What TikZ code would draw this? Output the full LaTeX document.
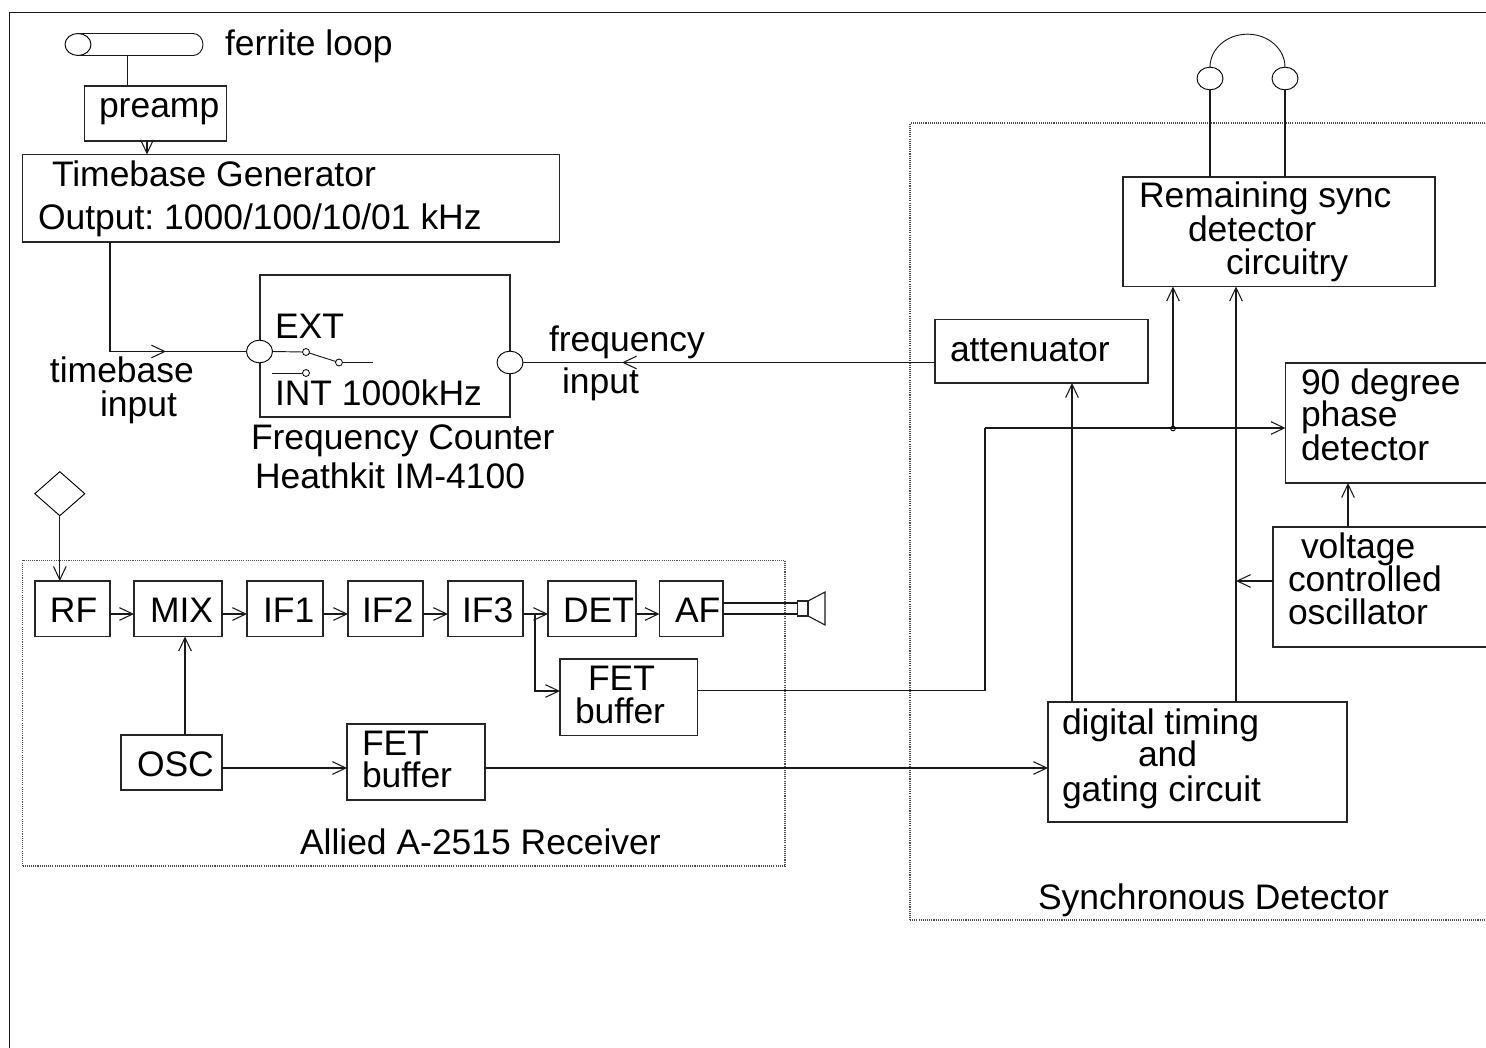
\documentclass[tikz,border=0pt]{standalone}
\usepackage{fontspec}
\setmainfont{Liberation Sans}
\usetikzlibrary{arrows.meta,shapes.geometric}
\tikzset{
  boxn/.style={draw=black!85,line width=0.8pt,rectangle,inner sep=0pt,outer sep=0pt},
  dotbox/.style={draw=black!70,line width=0.8pt,dash pattern=on 0.8pt off 0.8pt,rectangle,inner sep=0pt,outer sep=0pt},
  lbl/.style={anchor=base west,inner sep=0pt,outer sep=0pt,font=\frenchspacing\fontsize{26.6}{30}\selectfont},
  wire/.style={draw=black!90,line width=0.8pt},
  arr/.style={wire,-{Straight Barb[length=10pt,width=9.5pt]}},
  portc/.style={draw=black,line width=0.7pt,ellipse,inner sep=0pt,outer sep=0pt,minimum width=19.5pt,minimum height=17pt},
  tinyc/.style={draw=black,line width=0.6pt,circle,inner sep=0pt,outer sep=0pt,minimum size=5.2pt}
}
\newcommand{\bx}[6][boxn]{\node[#1,minimum width={(#5-#3)*0.75pt},minimum height={(#6-#4)*0.75pt}] (#2) at ({(#3+#5)/2},{(#4+#6)/2}) {};}
\newcommand{\tx}[4]{\node[lbl] (#1) at (#2,#3) {#4};}
\begin{document}
\begin{tikzpicture}[x=0.75pt,y=-0.75pt]
\useasboundingbox (0,0) rectangle (1486,1048);
\clip (0,0) rectangle (1486,1048);
% frame
\coordinate (frameA) at (9.5,1060);
\coordinate (frameB) at (9.5,12.5);
\coordinate (frameC) at (1500,12.5);
\draw[wire] (frameA) -- (frameB) -- (frameC);
% containers
\bx[dotbox]{receiver}{22.5}{560.5}{785}{866}
\bx[dotbox]{syncdet}{910}{123}{1500}{920}
% ferrite loop
\node[portc,minimum width=19.5pt,minimum height=16.5pt] (fcore) at (78,44.5) {};
\coordinate (ftop) at (193,33.5);
\draw[wire,line width=0.7pt] (fcore.north) -- (ftop) arc[start angle=-90,end angle=90,x radius=10,y radius=11] -- (fcore.south);
\coordinate (fbot) at (127.5,55.5);
\tx{tferrite}{225}{56}{ferrite loop}
% preamp, timebase
\bx{preamp}{84.5}{86}{226.5}{141}
\tx{tpre}{99}{118}{preamp}
\bx{timebase}{22.5}{154.5}{559.5}{242}
\tx{ttb1}{52}{187}{Timebase Generator}
\tx{ttb2}{38}{230}{Output: 1000/100/10/01 kHz}
\draw[wire] (fbot) -- (preamp.north -| fbot);
\draw[arr] (preamp.south -| 147,0) -- (timebase.north -| 147,0);
% counter
\bx{counter}{260}{275}{510}{417}
\node[portc,fill=white] (pin1) at (259.5,351.5) {};
\node[portc,fill=white] (pin2) at (510,362.5) {};
\node[tinyc] (swa) at (306,352) {};
\node[tinyc] (swb) at (339,362.5) {};
\node[tinyc] (swc) at (306,373) {};
\coordinate (swout) at (373,362.5);
\coordinate (swint) at (272,373);
\draw[wire,line width=0.7pt] (pin1.east) -- (swa.west);
\draw[wire,line width=0.7pt] (swa) -- (swb);
\draw[wire,line width=0.7pt] (swb.east) -- (swout);
\draw[wire,line width=0.7pt] (swint) -- (swc.west);
\tx{text}{275}{339}{EXT}
\tx{tint}{275}{406}{INT 1000kHz}
\tx{tfc}{251}{450}{Frequency Counter}
\tx{thk}{255}{489}{Heathkit IM-4100}
\coordinate (tbturn) at (110,351.5);
\coordinate (tbtip) at (166,351.5);
\draw[wire] (timebase.south -| tbturn) -- (tbturn) -- (pin1.west);
\draw[arr] (tbturn) -- (tbtip);
\tx{ttbi1}{50}{383}{timebase}
\tx{ttbi2}{100}{417}{input}
\tx{tfi1}{549}{352}{frequency}
\tx{tfi2}{562}{394}{input}
% receiver blocks
\node[draw=black,line width=0.7pt,diamond,inner sep=0pt,outer sep=0pt,minimum width=37.5pt,minimum height=33pt] (ant) at (59.8,493.7) {};
\bx{rf}{35}{581}{110}{636.5}
\bx{mix}{134}{581}{222}{636.5}
\bx{ifa}{247}{581}{323}{636.5}
\bx{ifb}{348}{581}{423}{636.5}
\bx{ifc}{448}{581}{523}{636.5}
\bx{det}{548}{581}{636}{636.5}
\bx{af}{659.5}{581}{723}{636.5}
\tx{trf}{50}{622}{RF}
\tx{tmix}{150}{622}{MIX}
\tx{tifa}{263}{622}{IF1}
\tx{tifb}{362}{622}{IF2}
\tx{tifc}{462}{622}{IF3}
\tx{tdet}{563}{622}{DET}
\tx{taf}{675}{622}{AF}
\draw[arr] (ant.south) -- (rf.north -| ant.south);
\draw[arr] (rf.east |- 0,614) -- (mix.west |- 0,614);
\draw[arr] (mix.east |- 0,614) -- (ifa.west |- 0,614);
\draw[arr] (ifa.east |- 0,614) -- (ifb.west |- 0,614);
\draw[arr] (ifb.east |- 0,614) -- (ifc.west |- 0,614);
\draw[arr] (ifc.east |- 0,614) -- (det.west |- 0,614);
\draw[arr] (det.east |- 0,614) -- (af.west |- 0,614);
\bx{fetb}{560}{659}{697.5}{735.5}
\tx{tfetb1}{588}{690}{FET}
\tx{tfetb2}{575}{723}{buffer}
\coordinate (branch) at (535,614);
\draw[arr] (branch) |- (fetb.west |- 0,691);
\bx{osc}{121}{735}{222}{790}
\tx{tosc}{137}{776}{OSC}
\bx{feta}{347}{724}{485}{800}
\tx{tfeta1}{362}{755}{FET}
\tx{tfeta2}{362}{787}{buffer}
\draw[arr] (osc.north -| 185,0) -- (mix.south -| 185,0);
\draw[arr] (osc.east |- 0,768) -- (feta.west |- 0,768);
\tx{tallied}{300}{854}{Allied A-2515 Receiver}
% speaker
\bx{spk}{797.5}{601}{808}{616}
\draw[wire] (af.east |- 0,603) -- (spk.west |- 0,603);
\draw[wire] (af.east |- 0,614) -- (spk.west |- 0,614);
\coordinate (conea) at (825,592);
\coordinate (coneb) at (825,625);
\draw[wire] (spk.north east) -- (conea) -- (coneb) -- (spk.south east);
% synchronous detector blocks
\bx{remain}{1123}{177}{1435}{286.5}
\tx{trem1}{1139}{208}{Remaining sync}
\tx{trem2}{1188}{242}{detector}
\tx{trem3}{1226}{275}{circuitry}
\bx{atten}{935}{319.5}{1148}{383}
\tx{tatt}{950}{362}{attenuator}
\bx{phase}{1285.5}{363}{1500}{483}
\tx{tph1}{1301}{395}{90 degree}
\tx{tph2}{1301}{427}{phase}
\tx{tph3}{1301}{461}{detector}
\bx{vco}{1273}{527}{1500}{647}
\tx{tvco1}{1301}{559}{voltage}
\tx{tvco2}{1288}{591}{controlled}
\tx{tvco3}{1288}{624}{oscillator}
\bx{digital}{1048}{702}{1347}{822}
\tx{tdig1}{1062}{734}{digital timing}
\tx{tdig2}{1138}{766}{and}
\tx{tdig3}{1062}{801}{gating circuit}
\tx{tsync}{1038}{909}{Synchronous Detector}
% headphones
\node[portc] (capl) at (1210,78.5) {};
\node[portc] (capr) at (1285,78.5) {};
\draw[wire,line width=0.7pt] (capl.north) arc[start angle=180,end angle=360,x radius=37.5,y radius=33];
\draw[wire] (capl.south) -- (remain.north -| capl.south);
\draw[wire] (capr.south) -- (remain.north -| capr.south);
% long connectors
\coordinate (fq) at (622,362.5);
\draw[wire] (atten.west |- pin2.east) -- (pin2.east);
\draw[arr] (atten.west |- pin2.east) -- (fq);
\coordinate (corner) at (985,428);
\draw[wire] (fetb.east |- 0,690.5) -| (corner);
\draw[arr] (corner) -- (phase.west |- corner);
\node[draw=black,line width=0.7pt,circle,inner sep=0pt,minimum size=3.5pt] (junction) at (1173,428.5) {};
\draw[arr] (junction) -- (remain.south -| junction);
\draw[arr] (digital.north -| 1236,0) -- (remain.south -| 1236,0);
\draw[arr] (digital.north -| 1072,0) -- (atten.south -| 1072,0);
\draw[arr] (feta.east |- 0,768) -- (digital.west |- 0,768);
\draw[arr] (vco.north -| 1348,0) -- (phase.south -| 1348,0);
\draw[arr] (vco.west |- 0,581) -- (1236,581);
\end{tikzpicture}
\end{document}
